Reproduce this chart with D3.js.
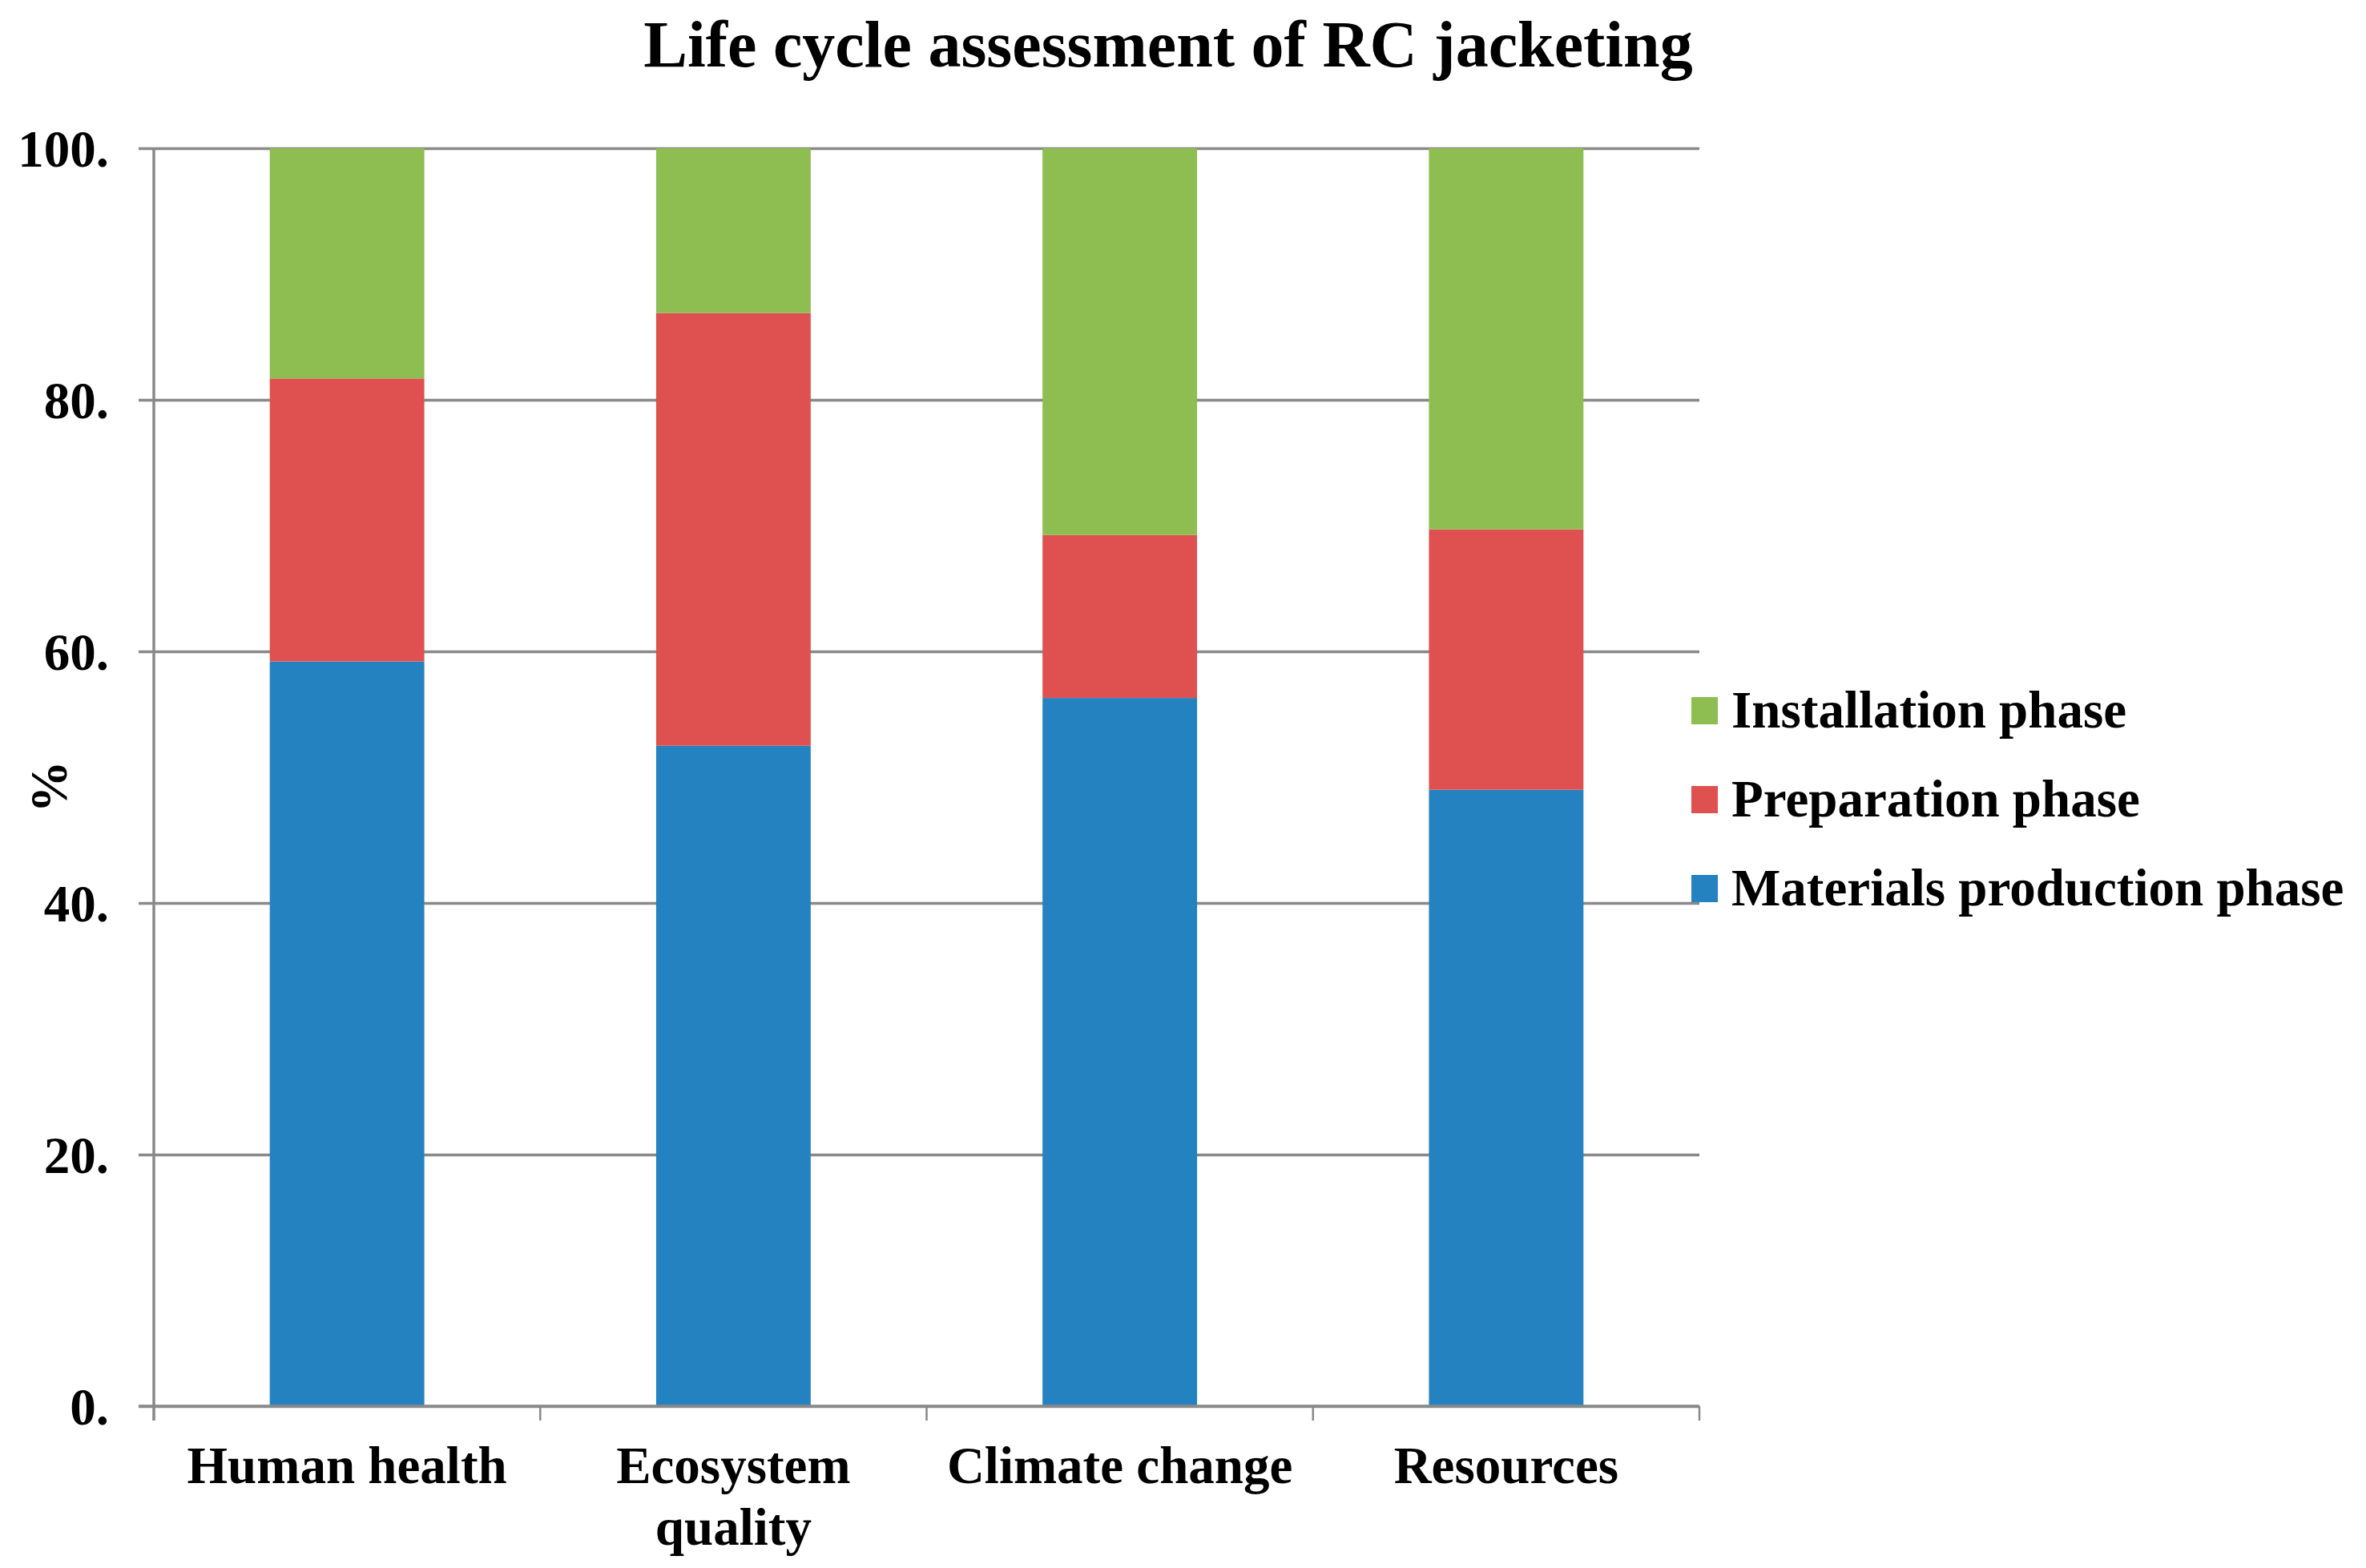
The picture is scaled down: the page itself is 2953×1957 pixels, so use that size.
<!DOCTYPE html>
<html>
<head>
<meta charset="utf-8">
<script src="https://cdn.jsdelivr.net/npm/d3@7"></script>
<style>
  body { margin: 0; background: #fff; }
  text { font-family: "Liberation Serif", "Times New Roman", serif; font-weight: bold; fill: #000; }
</style>
</head>
<body>
<div id="chart"></div>
<script>
/****************************/
/******data sets & vars******/
/****************************/
var categories = ["Human health", "Ecosystem quality", "Climate change", "Resources"];
var materials = [59.2, 52.5, 56.3, 49.0];
var preparation = [22.5, 34.4, 12.95, 20.7];
var installation = [18.3, 13.1, 30.75, 30.3];
var seriesNames = ["Materials production phase", "Preparation phase", "Installation phase"];
var seriesColors = ["#2582C1", "#DF5150", "#8EBD51"];
var yTicks = [0, 20, 40, 60, 80, 100];

var w = 2953;
var h = 1957;
var plotLeft = 192, plotRight = 2121, plotTop = 185, plotBottom = 1755;

var rows = categories.map(function(c, i) {
    return { cat: c, m: materials[i], p: preparation[i], inst: installation[i] };
});
var stack = d3.stack().keys(["m", "p", "inst"]);
var stacked = stack(rows);

var svg = d3.select("#chart")
    .append("svg")
    .attr("width", w)
    .attr("height", h);

var xScale = d3.scaleBand()
    .domain(categories)
    .range([plotLeft, plotRight])
    .paddingInner(0.6)
    .paddingOuter(0.3);
var yScale = d3.scaleLinear()
    .domain([0, 100])
    .range([plotBottom, plotTop]);

/****************************/
/******grid & y axis*********/
/****************************/
var yAxis = d3.axisLeft(yScale)
    .tickValues(yTicks)
    .tickSize(plotRight - 173)
    .tickPadding(37)
    .tickFormat(function(d) { return d + "."; });
var yg = svg.append("g")
    .attr("transform", "translate(" + plotRight + ",0)")
    .call(yAxis);
yg.select(".domain").remove();
yg.selectAll(".tick line")
    .attr("stroke", "#898989")
    .attr("stroke-width", 3.5);
yg.selectAll(".tick text")
    .attr("font-size", "65px")
    .attr("dy", "0.34em");

svg.append("line")
    .attr("x1", plotLeft).attr("x2", plotLeft)
    .attr("y1", plotTop).attr("y2", plotBottom + 18)
    .attr("stroke", "#898989")
    .attr("stroke-width", 3.5);

/****************************/
/*********bars***************/
/****************************/
svg.selectAll("g.layer")
    .data(stacked)
    .enter()
    .append("g")
    .attr("class", "layer")
    .attr("fill", function(d, i) { return seriesColors[i]; })
    .selectAll("rect")
    .data(function(d) { return d; })
    .enter()
    .append("rect")
    .attr("x", function(d) { return xScale(d.data.cat); })
    .attr("y", function(d) { return yScale(d[1]); })
    .attr("width", xScale.bandwidth())
    .attr("height", function(d) { return yScale(d[0]) - yScale(d[1]); });

// redraw the zero line over the bars
svg.append("line")
    .attr("x1", 173).attr("x2", plotRight)
    .attr("y1", plotBottom).attr("y2", plotBottom)
    .attr("stroke", "#898989")
    .attr("stroke-width", 3.5);

/****************************/
/*********x axis*************/
/****************************/
var step = xScale.step();
var bounds = categories.map(function(c) { return xScale(c) - step * 0.3; });
bounds.push(plotRight);
svg.selectAll("line.xtick")
    .data(bounds)
    .enter()
    .append("line")
    .attr("class", "xtick")
    .attr("x1", function(d) { return d; })
    .attr("x2", function(d) { return d; })
    .attr("y1", plotBottom)
    .attr("y2", plotBottom + 18)
    .attr("stroke", "#898989")
    .attr("stroke-width", 2.5);

svg.selectAll("text.xlab")
    .data(categories)
    .enter()
    .append("text")
    .attr("class", "xlab")
    .attr("x", function(d) { return xScale(d) + xScale.bandwidth() / 2; })
    .attr("y", 1851)
    .attr("font-size", "65px")
    .attr("text-anchor", "middle")
    .text(function(d) { return d; })
    .each(function(d) {
        var t = d3.select(this);
        var x = t.attr("x");
        if (this.getComputedTextLength() > step) {
            var words = d.split(" ");
            t.text(null);
            words.forEach(function(wd, k) {
                t.append("tspan")
                    .attr("x", x)
                    .attr("dy", k === 0 ? 0 : 77)
                    .text(wd);
            });
        }
    });

/****************************/
/*********titles*************/
/****************************/
svg.append("text")
    .attr("x", 1458)
    .attr("y", 83)
    .attr("font-size", "82px")
    .attr("text-anchor", "middle")
    .text("Life cycle assessment of RC jacketing");

svg.append("text")
    .attr("transform", "translate(61,982) rotate(-90)")
    .attr("font-size", "65px")
    .attr("text-anchor", "middle")
    .attr("dy", "0.34em")
    .text("%");

/****************************/
/*********legend*************/
/****************************/
var legendOrder = [2, 1, 0];
var legend = svg.selectAll("g.legend")
    .data(legendOrder)
    .enter()
    .append("g")
    .attr("class", "legend")
    .attr("transform", function(d, i) { return "translate(2111," + (870 + i * 111) + ")"; });
legend.append("rect")
    .attr("width", 33)
    .attr("height", 34)
    .attr("fill", function(d) { return seriesColors[d]; });
legend.append("text")
    .attr("x", 50)
    .attr("y", 38)
    .attr("font-size", "65px")
    .text(function(d) { return seriesNames[d]; });
</script>
</body>
</html>
